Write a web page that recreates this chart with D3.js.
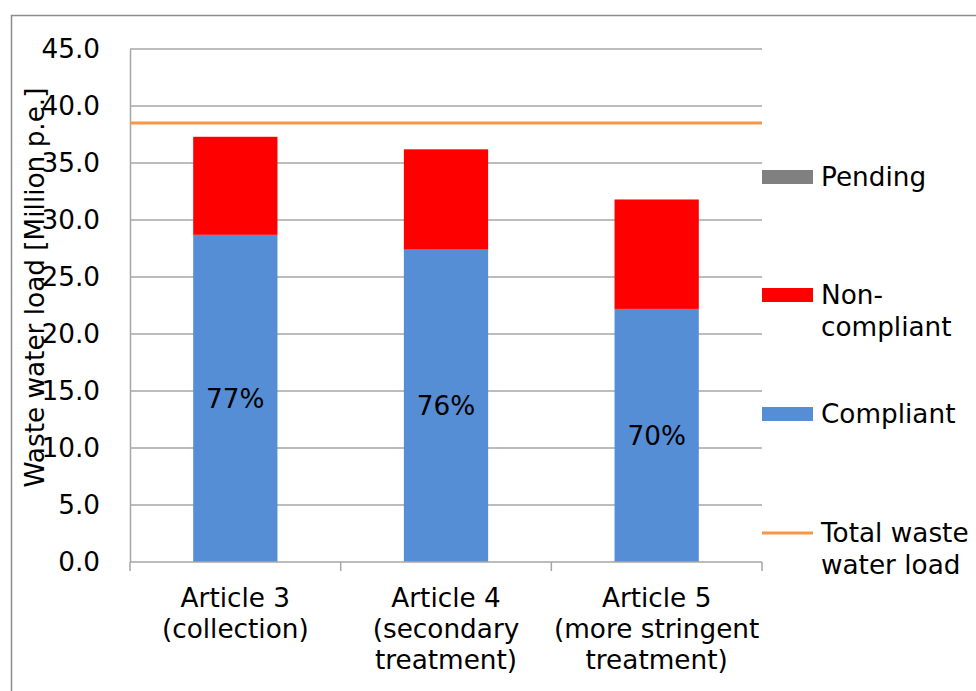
<!DOCTYPE html>
<html lang="en">
<head>
    <meta charset="UTF-8">
    <title>Waste water load by article</title>
    <script src="https://d3js.org/d3.v7.min.js"></script>
    <style>
        body { margin: 0; background: #fff; }
        text { font-family: "DejaVu Sans", Verdana, sans-serif; fill: #000; }
    </style>
</head>
<body>
    <script>
        const categories = [
            ["Article 3", "(collection)"],
            ["Article 4", "(secondary", "treatment)"],
            ["Article 5", "(more stringent", "treatment)"]
        ];
        const compliant = [28.7, 27.4, 22.2];
        const nonCompliant = [8.6, 8.8, 9.6];
        const pending = [0, 0, 0];
        const percentLabels = ["77%", "76%", "70%"];
        const totalLoad = 38.5;
        const yTicks = [0, 5, 10, 15, 20, 25, 30, 35, 40, 45];

        const width = 976;
        const height = 691;
        const margin = {top: 49, right: 214, bottom: 129, left: 130};
        const fontSize = 26.3;

        const svg = d3.select("body").append("svg")
            .attr("width", width)
            .attr("height", height);

        // outer chart frame (only top and left edges visible)
        svg.append("path")
            .attr("d", `M11.5,${height} V15.5 H976`)
            .attr("fill", "none")
            .attr("stroke", "#8c8c8c")
            .attr("stroke-width", 1.5);

        const x = d3.scaleBand()
            .domain(d3.range(categories.length))
            .range([margin.left, width - margin.right])
            .paddingInner(0.6)
            .paddingOuter(0.3);

        const bounds = d3.scaleBand()
            .domain(d3.range(categories.length))
            .range([margin.left, width - margin.right]);

        const y = d3.scaleLinear()
            .domain([0, 45])
            .range([height - margin.bottom, margin.top]);

        // gridlines
        svg.append("g")
            .selectAll("line")
            .data(yTicks.slice(1))
            .join("line")
            .attr("x1", margin.left)
            .attr("x2", width - margin.right)
            .attr("y1", d => y(d))
            .attr("y2", d => y(d))
            .attr("stroke", "#a6a6a6")
            .attr("stroke-width", 1.5);

        // y axis
        const yAxis = svg.append("g")
            .attr("transform", `translate(${margin.left},0)`)
            .call(d3.axisLeft(y).tickValues(yTicks).tickFormat(d3.format(".1f")).tickSize(0).tickPadding(30));
        yAxis.select(".domain").attr("stroke", "#a6a6a6").attr("stroke-width", 1.5);
        yAxis.selectAll("text")
            .style("font-size", fontSize + "px")
            .style("font-family", "DejaVu Sans, Verdana, sans-serif")
            .attr("fill", "#000");

        // stacked bars
        const stacks = [
            {name: "Compliant", values: compliant, color: "#558ed5"},
            {name: "Non-compliant", values: nonCompliant, color: "#ff0000"},
            {name: "Pending", values: pending, color: "#808080"}
        ];
        const stackData = categories.map((c, i) => {
            const row = {i};
            stacks.forEach(s => row[s.name] = s.values[i]);
            return row;
        });
        const series = d3.stack().keys(stacks.map(s => s.name))(stackData);

        svg.append("g")
            .selectAll("g")
            .data(series)
            .join("g")
            .attr("fill", (d, k) => stacks[k].color)
            .selectAll("rect")
            .data(d => d)
            .join("rect")
            .attr("x", d => x(d.data.i))
            .attr("width", x.bandwidth())
            .attr("y", d => y(d[1]))
            .attr("height", d => y(d[0]) - y(d[1]));

        // percentage labels in the compliant segment
        svg.append("g")
            .selectAll("text")
            .data(percentLabels)
            .join("text")
            .attr("x", (d, i) => x(i) + x.bandwidth() / 2)
            .attr("y", (d, i) => y(compliant[i] / 2))
            .attr("dy", "0.35em")
            .attr("text-anchor", "middle")
            .style("font-size", fontSize + "px")
            .text(d => d);

        // total load line
        svg.append("line")
            .attr("x1", margin.left)
            .attr("x2", width - margin.right)
            .attr("y1", y(totalLoad))
            .attr("y2", y(totalLoad))
            .attr("stroke", "#f79646")
            .attr("stroke-width", 3);

        // x axis
        const xAxisY = y(0);
        svg.append("line")
            .attr("x1", margin.left)
            .attr("x2", width - margin.right)
            .attr("y1", xAxisY)
            .attr("y2", xAxisY)
            .attr("stroke", "#a6a6a6")
            .attr("stroke-width", 1.5);
        svg.append("g")
            .selectAll("line")
            .data(d3.range(categories.length + 1))
            .join("line")
            .attr("x1", d => d < categories.length ? bounds(d) : width - margin.right)
            .attr("x2", d => d < categories.length ? bounds(d) : width - margin.right)
            .attr("y1", xAxisY)
            .attr("y2", xAxisY + 9)
            .attr("stroke", "#a6a6a6")
            .attr("stroke-width", 1.5);

        svg.append("g")
            .selectAll("text")
            .data(categories)
            .join("text")
            .attr("x", (d, i) => bounds(i) + bounds.bandwidth() / 2)
            .attr("y", xAxisY + 45)
            .attr("text-anchor", "middle")
            .style("font-size", fontSize + "px")
            .selectAll("tspan")
            .data(d => d)
            .join("tspan")
            .attr("x", function() { return this.parentNode.getAttribute("x"); })
            .attr("dy", (d, j) => j === 0 ? 0 : 31)
            .text(d => d);

        // y axis title
        svg.append("text")
            .attr("transform", `translate(44,${(margin.top + height - margin.bottom) / 2 - 18}) rotate(-90)`)
            .attr("text-anchor", "middle")
            .style("font-size", fontSize + "px")
            .text("Waste water load [Million p.e.]");

        // legend
        const legendItems = [
            {lines: ["Pending"], color: "#808080", cy: 177, type: "rect"},
            {lines: ["Non-", "compliant"], color: "#ff0000", cy: 295, type: "rect"},
            {lines: ["Compliant"], color: "#558ed5", cy: 414, type: "rect"},
            {lines: ["Total waste", "water load"], color: "#f79646", cy: 533, type: "line"}
        ];
        const legend = svg.append("g");
        legendItems.forEach(item => {
            if (item.type === "rect") {
                legend.append("rect")
                    .attr("x", 762).attr("y", item.cy - 7)
                    .attr("width", 51).attr("height", 14)
                    .attr("fill", item.color);
            } else {
                legend.append("line")
                    .attr("x1", 762).attr("x2", 813)
                    .attr("y1", item.cy).attr("y2", item.cy)
                    .attr("stroke", item.color).attr("stroke-width", 3);
            }
            const t = legend.append("text")
                .attr("x", 821)
                .attr("y", item.cy + 9)
                .style("font-size", fontSize + "px");
            item.lines.forEach((l, j) => {
                t.append("tspan").attr("x", 821).attr("dy", j === 0 ? 0 : 32).text(l);
            });
        });
    </script>
</body>
</html>
